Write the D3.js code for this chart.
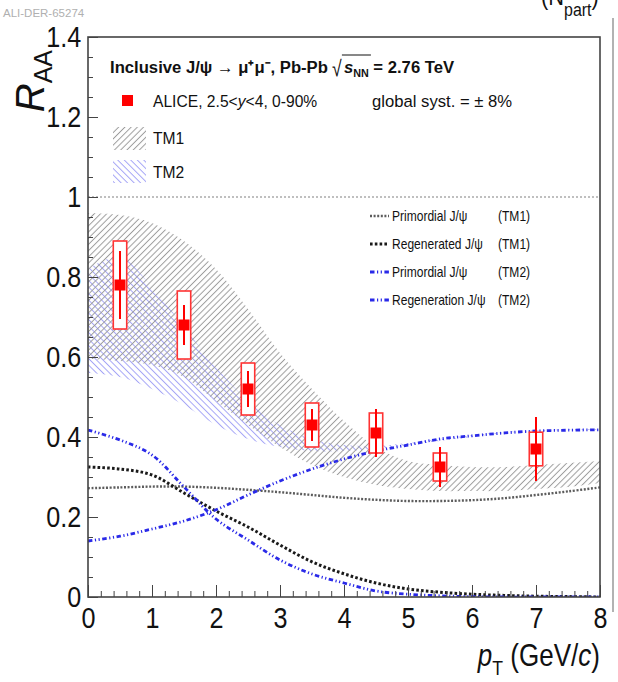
<!DOCTYPE html>
<html>
<head>
<meta charset="utf-8">
<script src="https://cdn.jsdelivr.net/npm/d3@7"></script>
<style>
  body { margin: 0; background: #fff; }
  svg text { font-family: "Liberation Sans", Arial, Helvetica, sans-serif; }
</style>
</head>
<body>
<div id="chart"></div>
<script>
// ALICE points
const ptX = [0.5, 1.5, 2.5, 3.5, 4.5, 5.5, 7];
const raa = [0.78, 0.68, 0.52, 0.43, 0.41, 0.325, 0.37];
const statErr = [0.085, 0.05, 0.045, 0.04, 0.06, 0.05, 0.08];
const systErr = [0.11, 0.085, 0.065, 0.055, 0.05, 0.035, 0.042];

// model grid
const modelX = [0, 0.5, 1, 1.5, 2, 2.5, 3, 3.5, 4, 4.5, 5, 5.5, 6, 6.5, 7, 7.5, 8];
const tm1Low  = [0.595, 0.59, 0.58, 0.55, 0.49, 0.43, 0.375, 0.33, 0.30, 0.28, 0.27, 0.265, 0.265, 0.265, 0.27, 0.275, 0.285];
const tm1High = [0.96, 0.955, 0.935, 0.89, 0.82, 0.72, 0.61, 0.52, 0.44, 0.375, 0.34, 0.33, 0.325, 0.325, 0.33, 0.335, 0.34];
const tm2Low  = [0.56, 0.55, 0.52, 0.48, 0.43, 0.395, 0.375, 0.365, 0.365, 0.37, 0.38, 0.39, 0.40, 0.41, 0.415, 0.417, 0.418];
const tm2High = [0.82, 0.85, 0.775, 0.675, 0.575, 0.49, 0.43, 0.395, 0.38, 0.378, 0.385, 0.395, 0.405, 0.412, 0.417, 0.419, 0.42];
const primTM1 = [0.272, 0.274, 0.276, 0.276, 0.273, 0.268, 0.262, 0.255, 0.248, 0.243, 0.24, 0.24, 0.242, 0.247, 0.255, 0.264, 0.274];
const regTM1  = [0.325, 0.32, 0.305, 0.26, 0.215, 0.175, 0.13, 0.088, 0.058, 0.035, 0.02, 0.012, 0.007, 0.004, 0.002, 0.001, 0];
const primTM2 = [0.4175, 0.3925, 0.355, 0.275, 0.195, 0.1425, 0.0925, 0.0575, 0.035, 0.015, 0.007, 0.003, 0.001, 0, 0, 0, 0];
const regTM2  = [0.14, 0.152, 0.17, 0.19, 0.218, 0.255, 0.29, 0.32, 0.345, 0.365, 0.38, 0.395, 0.403, 0.41, 0.415, 0.417, 0.418];

const xTicks = [0, 1, 2, 3, 4, 5, 6, 7, 8];
const yTicks = [0, 0.2, 0.4, 0.6, 0.8, 1, 1.2, 1.4];

const W = 618, H = 682;
const SX = 0.84; // ROOT text looks horizontally squeezed
const x = d3.scaleLinear().domain([0, 8]).range([88, 600]);
const y = d3.scaleLinear().domain([0, 1.4]).range([597, 37]);

const svg = d3.select("#chart").append("svg")
  .attr("width", W).attr("height", H);

// text placed at (tx, ty) with a horizontal squeeze
function label(parent, tx, ty, size, sx) {
  return parent.append("text")
    .attr("transform", `translate(${tx},${ty}) scale(${sx == null ? SX : sx},1)`)
    .attr("font-size", size).attr("fill", "#111");
}

const defs = svg.append("defs");
function hatch(id, color, angle, gap, sw) {
  const p = defs.append("pattern")
    .attr("id", id)
    .attr("patternUnits", "userSpaceOnUse")
    .attr("width", gap).attr("height", gap)
    .attr("patternTransform", `rotate(${angle})`);
  p.append("line")
    .attr("x1", gap / 2).attr("y1", 0)
    .attr("x2", gap / 2).attr("y2", gap)
    .attr("stroke", color).attr("stroke-width", sw);
}
hatch("hatchTM1", "#9c9c9c", 45, 4.4, 1.0);
hatch("hatchTM2", "#a4a4f6", -45, 4.6, 1.0);

svg.append("clipPath").attr("id", "frameClip")
  .append("rect").attr("x", 88).attr("y", 37).attr("width", 512).attr("height", 560);

const plot = svg.append("g").attr("clip-path", "url(#frameClip)");

// bands
const band = (lo, hi) => d3.area()
  .x((d, i) => x(modelX[i]))
  .y0((d, i) => y(lo[i]))
  .y1((d, i) => y(hi[i]))
  .curve(d3.curveCatmullRom);

plot.append("path").datum(modelX)
  .attr("d", band(tm2Low, tm2High))
  .attr("fill", "url(#hatchTM2)");
plot.append("path").datum(modelX)
  .attr("d", band(tm1Low, tm1High))
  .attr("fill", "url(#hatchTM1)");

// y = 1 reference
plot.append("line")
  .attr("x1", x(0)).attr("x2", x(8))
  .attr("y1", y(1)).attr("y2", y(1))
  .attr("stroke", "#aaa").attr("stroke-width", 1.5)
  .attr("stroke-dasharray", "2,2");

// model curves
const curveStyles = [
  { vals: primTM1, color: "#5c5c5c", width: 2.4, dash: "2,1.6" },
  { vals: regTM1, color: "#1a1a1a", width: 3, dash: "2.6,2.2" },
  { vals: primTM2, color: "#2a2ae8", width: 2.8, dash: "4.5,2.5,1.2,2.5,1.2,2.5" },
  { vals: regTM2, color: "#2a2ae8", width: 2.8, dash: "4.5,2.5,1.2,2.5,1.2,2.5" }
];
curveStyles.forEach(c => {
  plot.append("path").datum(modelX)
    .attr("d", d3.line()
      .x((d, i) => x(modelX[i]))
      .y((d, i) => y(c.vals[i]))
      .curve(d3.curveCatmullRom))
    .attr("fill", "none")
    .attr("stroke", c.color)
    .attr("stroke-width", c.width)
    .attr("stroke-dasharray", c.dash);
});

// data points
const pts = svg.append("g");
ptX.forEach((px, i) => {
  pts.append("rect")
    .attr("x", x(px - 0.105)).attr("width", x(px + 0.105) - x(px - 0.105))
    .attr("y", y(raa[i] + systErr[i]))
    .attr("height", y(raa[i] - systErr[i]) - y(raa[i] + systErr[i]))
    .attr("fill", "#fff").attr("stroke", "#f33").attr("stroke-width", 1.6);
  pts.append("line")
    .attr("x1", x(px)).attr("x2", x(px))
    .attr("y1", y(raa[i] + statErr[i])).attr("y2", y(raa[i] - statErr[i]))
    .attr("stroke", "#f00").attr("stroke-width", 2);
  pts.append("rect")
    .attr("x", x(px) - 5.5).attr("y", y(raa[i]) - 5.5)
    .attr("width", 11).attr("height", 11)
    .attr("fill", "#f00");
});

// axes (ticks inward)
const axisColor = "#444";
const gx = svg.append("g").attr("transform", `translate(0,${y(0)})`);
gx.call(d3.axisBottom(x).tickValues(d3.range(0, 8.01, 0.2)).tickSize(-6).tickFormat(""));
gx.selectAll(".tick line").attr("stroke", axisColor);
const gxMaj = svg.append("g").attr("transform", `translate(0,${y(0)})`);
gxMaj.call(d3.axisBottom(x).tickValues(xTicks).tickSize(-12).tickPadding(10).tickFormat(d3.format("d")));
gxMaj.selectAll(".tick line").attr("stroke", axisColor);
gxMaj.selectAll(".tick text").attr("font-size", 30).attr("fill", "#111")
  .attr("transform", `scale(${SX},1)`)
  .attr("font-family", "Liberation Sans, Arial, sans-serif");

const gy = svg.append("g").attr("transform", `translate(${x(0)},0)`);
gy.call(d3.axisLeft(y).tickValues(d3.range(0, 1.401, 0.05)).tickSize(-5).tickFormat(""));
gy.selectAll(".tick line").attr("stroke", axisColor);
const gyMaj = svg.append("g").attr("transform", `translate(${x(0)},0)`);
gyMaj.call(d3.axisLeft(y).tickValues(yTicks).tickSize(-10).tickPadding(8).tickFormat(d3.format("~g")));
gyMaj.selectAll(".tick line").attr("stroke", axisColor);
gyMaj.selectAll(".tick text").attr("font-size", 30).attr("fill", "#111")
  .attr("transform", `scale(${SX},1)`)
  .attr("font-family", "Liberation Sans, Arial, sans-serif");
svg.selectAll(".domain").remove();

// frame
svg.append("rect")
  .attr("x", x(0)).attr("y", y(1.4))
  .attr("width", x(8) - x(0)).attr("height", y(0) - y(1.4))
  .attr("fill", "none").attr("stroke", axisColor).attr("stroke-width", 1.6);

// axis titles
const yt = svg.append("text")
  .attr("transform", `translate(44,50) rotate(-90)`)
  .attr("text-anchor", "end").attr("fill", "#111");
yt.append("tspan").attr("font-size", 40).attr("font-style", "italic").text("R");
yt.append("tspan").attr("font-size", 25).attr("dy", 8).text("AA");

const xt = label(svg, 600, 666, 31).attr("text-anchor", "end");
xt.append("tspan").attr("font-style", "italic").text("p");
xt.append("tspan").attr("font-size", 21).attr("dy", 9).text("T");
xt.append("tspan").attr("dy", -9).text(" (GeV/");
xt.append("tspan").attr("font-style", "italic").text("c");
xt.append("tspan").text(")");

// legend
const leg = svg.append("g");
const title = label(leg, 110, 73, 17, 0.98).attr("font-weight", "bold")
  .text("Inclusive J/\u03c8 \u2192 \u03bc\u207a\u03bc\u207b, Pb-Pb");
const tEnd = 110 + title.node().getComputedTextLength() * 0.98;
label(leg, tEnd + 4, 76, 22, 0.8).text("\u221a");
leg.append("line").attr("x1", tEnd + 14).attr("x2", tEnd + 43).attr("y1", 55).attr("y2", 55)
  .attr("stroke", "#111").attr("stroke-width", 1);
const sn = label(leg, tEnd + 16, 73, 17, 0.98).attr("font-weight", "bold");
sn.append("tspan").attr("font-style", "italic").text("s");
sn.append("tspan").attr("font-size", 11).attr("dy", 4).text("NN");
sn.append("tspan").attr("dy", -4).text(" = 2.76 TeV");

leg.append("rect").attr("x", 122).attr("y", 95).attr("width", 11).attr("height", 11).attr("fill", "#f00");
const al = label(leg, 153, 107, 17, 0.92);
al.append("tspan").text("ALICE, 2.5<");
al.append("tspan").attr("font-style", "italic").text("y");
al.append("tspan").text("<4, 0-90%");
label(leg, 372, 107, 17, 0.98).text("global syst. = \u00b1 8%");

leg.append("rect").attr("x", 113).attr("y", 127).attr("width", 33).attr("height", 23).attr("fill", "url(#hatchTM1)");
label(leg, 153, 144, 17, 0.92).text("TM1");
leg.append("rect").attr("x", 113).attr("y", 160).attr("width", 33).attr("height", 23).attr("fill", "url(#hatchTM2)");
label(leg, 153, 178, 17, 0.92).text("TM2");

const leg2 = [
  { name: "Primordial J/\u03c8", tag: "(TM1)", ly: 216, s: curveStyles[0] },
  { name: "Regenerated J/\u03c8", tag: "(TM1)", ly: 244, s: curveStyles[1] },
  { name: "Primordial J/\u03c8", tag: "(TM2)", ly: 272, s: curveStyles[2] },
  { name: "Regeneration J/\u03c8", tag: "(TM2)", ly: 300, s: curveStyles[3] }
];
leg2.forEach(e => {
  leg.append("line").attr("x1", 370).attr("x2", 389).attr("y1", e.ly).attr("y2", e.ly)
    .attr("stroke", e.s.color).attr("stroke-width", e.s.width).attr("stroke-dasharray", e.s.dash);
  label(leg, 392, e.ly + 5, 14, 0.86).text(e.name);
  label(leg, 498, e.ly + 5, 14, 0.86).text(e.tag);
});

// stamps and neighbouring panel remnants
svg.append("text").attr("x", 3).attr("y", 17).attr("font-size", 11.5)
  .attr("font-family", "Liberation Mono, DejaVu Sans Mono, monospace").attr("fill", "#b0b0b0").text("ALI-DER-65274");
svg.append("text").attr("x", 3).attr("y", 690).attr("font-size", 11.5)
  .attr("font-family", "Liberation Mono, DejaVu Sans Mono, monospace").attr("fill", "#b0b0b0").text("ALI-DER-65275");
const np = label(svg, 541, 5, 26, 0.84);
np.append("tspan").text("(N");
np.append("tspan").attr("font-size", 19).attr("dy", 11).text("part");
np.append("tspan").attr("dy", -11).text(")");
svg.append("line").attr("x1", 613).attr("x2", 613).attr("y1", 18).attr("y2", 612)
  .attr("stroke", "#999").attr("stroke-width", 1.5);
</script>
</body>
</html>
